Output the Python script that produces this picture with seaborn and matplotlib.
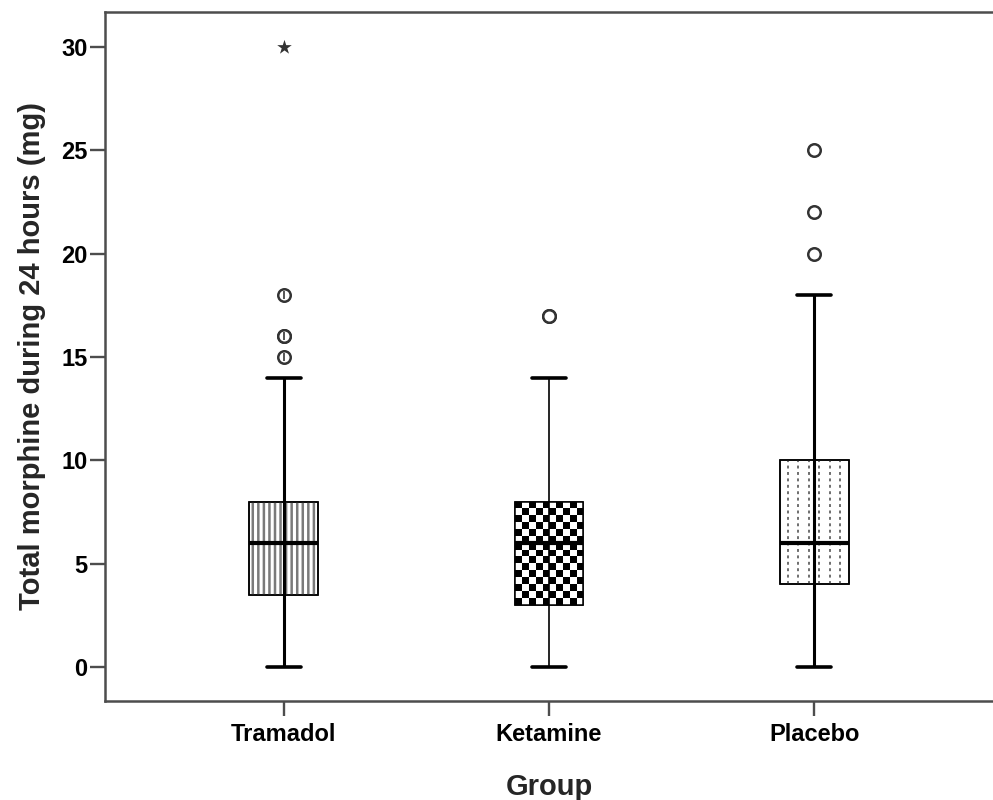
import numpy as np
import pandas as pd
import matplotlib
matplotlib.use("Agg")
import matplotlib.pyplot as plt
from matplotlib.patches import PathPatch
import seaborn as sns

# ---- data ----
groups = ["Tramadol", "Ketamine", "Placebo"]
tramadol = [0, 0, 1, 2, 2, 3, 3, 3, 3, 3.5, 3.5, 4, 4, 4, 5, 5, 5, 5, 6, 6, 6,
            6, 6, 6, 7, 7, 7, 8, 8, 8, 8, 8, 10, 10, 12, 14, 15, 16, 16, 18, 30]
ketamine = [0, 0, 1, 1, 2, 2, 2, 3, 3, 3, 3, 3, 4, 4, 4, 5, 5, 5, 5, 6, 6,
            6, 6, 6, 7, 7, 7, 7, 7, 8, 8, 8, 8, 9, 10, 10, 11, 12, 14, 17, 17]
placebo = [0, 1, 2, 2, 3, 3, 3, 4, 4, 4, 4, 4, 5, 5, 5, 5, 6, 6, 6, 6, 6,
           6, 7, 7, 8, 8, 8, 9, 9, 10, 10, 10, 12, 12, 14, 15, 16, 18, 20, 22, 25]
yticks = [0, 5, 10, 15, 20, 25, 30]
xlabel = "Group"
ylabel = "Total morphine during 24 hours (mg)"

sns.set_theme(style="white")
plt.rcParams["font.family"] = ["Liberation Sans", "DejaVu Sans"]
plt.rcParams["hatch.linewidth"] = 1.8

values = [tramadol, ketamine, placebo]
df = pd.DataFrame({
    "group": np.repeat(groups, [len(v) for v in values]),
    "value": np.concatenate([np.asarray(v, float) for v in values]),
})

# classify outliers / extremes (SPSS rule)
rows = []
for g, vals in zip(groups, values):
    q1, q3 = np.percentile(vals, [25, 75])
    iqr = q3 - q1
    for v in vals:
        if v > q3 + 3 * iqr or v < q1 - 3 * iqr:
            rows.append((g, v, "extreme"))
        elif v > q3 + 1.5 * iqr or v < q1 - 1.5 * iqr:
            rows.append((g, v, "outlier"))
out_df = pd.DataFrame(rows, columns=["group", "value", "kind"])

fig = plt.figure(figsize=(9.93, 8), dpi=100)
fig.patch.set_facecolor("white")
ax = fig.add_axes([105 / 993, 1 - 701 / 800, 1 - 105 / 993, (701 - 12) / 800])

sns.boxplot(data=df, x="group", y="value", order=groups, width=0.26,
            showfliers=False, color="white", linecolor="black", linewidth=1.1,
            whis=1.5, ax=ax)

bc = ax.containers[0]
edge_col = "black"
for i, box in enumerate(bc.boxes):
    box.set_facecolor("white")
    box.set_edgecolor(edge_col)
    box.set_linewidth(1.1)
    box.set_zorder(2)
    path = box.get_path()
    ext = path.get_extents()
    x0, y0, x1, y1 = ext.x0, ext.y0, ext.x1, ext.y1
    xc = (x0 + x1) / 2
    if i == 0:
        hp = PathPatch(path, transform=box.get_transform(), facecolor="none",
                       edgecolor="#7a7a7a", linewidth=0, hatch="|||", zorder=2.1)
        ax.add_patch(hp)
    elif i == 1:
        nr, nc = 15, 10
        checker = (np.indices((nr, nc)).sum(axis=0) % 2).astype(float)
        im = ax.imshow(checker, cmap="gray", vmin=0, vmax=1, extent=(x0, x1, y0, y1),
                       aspect="auto", interpolation="nearest", zorder=2.1)
        im.set_clip_path(box)
    else:
        offs = [-0.098, -0.059, -0.02, 0.02, 0.059, 0.098]
        lc = ax.vlines([xc + o for o in offs], y0, y1, colors="#6e6e6e",
                       linewidth=1.4, linestyles=(0, (1.5, 1.8)), zorder=2.1)
        lc.set_clip_path(box)
    ep = PathPatch(path, transform=box.get_transform(), facecolor="none",
                   edgecolor=edge_col, linewidth=1.1, zorder=2.2)
    ax.add_patch(ep)

for i in range(len(groups)):
    lo_w = bc.whiskers[2 * i]
    hi_w = bc.whiskers[2 * i + 1]
    # SPSS draws the whisker line straight through the box
    lo_w.set_ydata([hi_w.get_ydata()[0], lo_w.get_ydata()[1]])
    lw = 1.2 if i == 1 else 2.2
    for w in (lo_w, hi_w):
        w.set_linewidth(lw)
        w.set_color("black")
        w.set_zorder(2.5)
    for c in (bc.caps[2 * i], bc.caps[2 * i + 1]):
        c.set_linewidth(2.6)
        c.set_color("black")
        c.set_zorder(2.5)
    m = bc.medians[i]
    m.set_linewidth(3.0)
    m.set_color("black")
    m.set_zorder(2.6)

outl = out_df[out_df["kind"] == "outlier"]
extr = out_df[out_df["kind"] == "extreme"]
sns.stripplot(data=outl, x="group", y="value", order=groups, jitter=False,
              marker="o", size=9, color="white", edgecolor="#333333",
              linewidth=1.8, ax=ax, zorder=4)
sns.stripplot(data=outl[outl["group"] == groups[0]], x="group", y="value",
              order=groups, jitter=False, marker="|", size=5.5, color="#555555",
              linewidth=1.4, ax=ax, zorder=5)
sns.stripplot(data=extr, x="group", y="value", order=groups, jitter=False,
              marker="*", size=11, color="#333333", linewidth=0, ax=ax, zorder=4)

ax.set_xlim(-0.675, 2.675)
ax.set_ylim(-1.645, 31.69)
ax.set_yticks(yticks)
ax.set_yticklabels([str(t) for t in yticks])

ax.tick_params(axis="both", which="major", direction="out", length=10.5,
               width=1.7, color="#4d4d4d", labelsize=17, labelcolor="black",
               bottom=True, left=True)
ax.tick_params(axis="y", pad=2)
ax.tick_params(axis="x", pad=5)
for lab in ax.get_xticklabels() + ax.get_yticklabels():
    lab.set_fontweight("bold")

for s in ["top", "left", "bottom"]:
    ax.spines[s].set_visible(True)
    ax.spines[s].set_color("#4d4d4d")
    ax.spines[s].set_linewidth(1.8)
ax.spines["right"].set_visible(False)

ax.set_xlabel(xlabel, fontsize=21, fontweight="bold", labelpad=20)
ax.set_ylabel(ylabel, fontsize=21, fontweight="bold", labelpad=11)
ax.set_facecolor("white")

fig.savefig("out.png", dpi=100, facecolor="white")
